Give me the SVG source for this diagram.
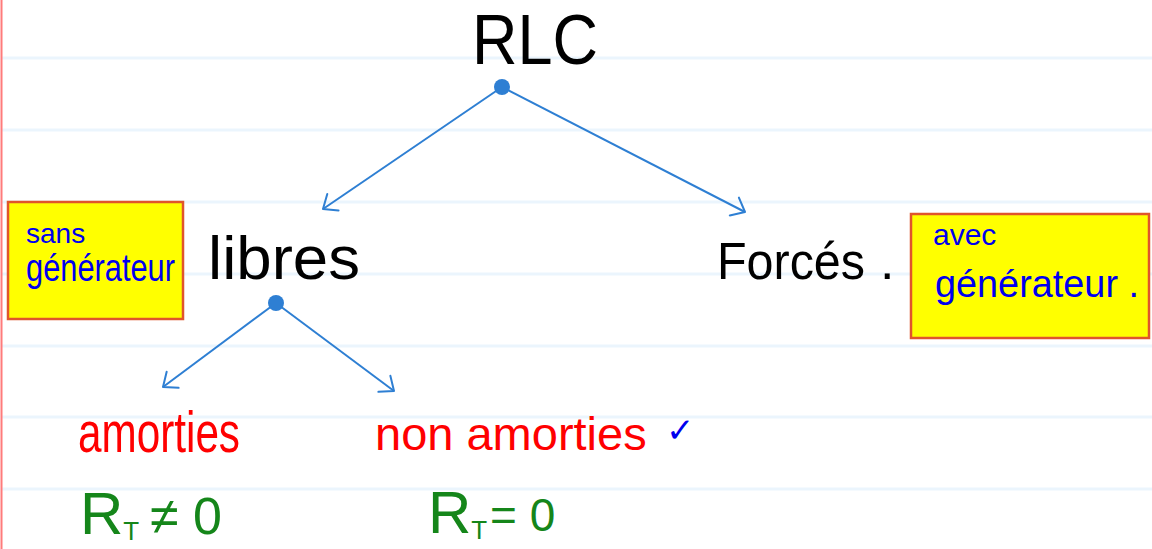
<svg xmlns="http://www.w3.org/2000/svg" width="1152" height="549" viewBox="0 0 1152 549">
<defs>
<style>
.rule{stroke:#ebf5fd;stroke-width:3}
.conn{stroke:#2e7fd3;stroke-width:2;fill:none}
.dot{fill:#2e7fd3}
.hw{font-family:"Liberation Sans","DejaVu Sans",sans-serif}
.blk{fill:#000}
.red{fill:#ff0000}
.blu{fill:#0000ee}
.grn{fill:#15861a}
.box{fill:#ffff00;stroke:#e0552b;stroke-width:2.5}
</style>
<marker id="arr" viewBox="0 0 16 24" refX="14" refY="12" markerWidth="16" markerHeight="24" markerUnits="userSpaceOnUse" orient="auto">
<path d="M2,2 L14,12 L2,22" fill="none" stroke="#2e7fd3" stroke-width="2" stroke-linecap="round" stroke-linejoin="round"/>
</marker>
</defs>
<rect width="1152" height="549" fill="#ffffff"/>
<g id="paper">
<line class="rule" x1="2" y1="58" x2="1152" y2="58"/>
<line class="rule" x1="2" y1="130" x2="1152" y2="130"/>
<line class="rule" x1="2" y1="202" x2="1152" y2="202"/>
<line class="rule" x1="2" y1="274" x2="1152" y2="274"/>
<line class="rule" x1="2" y1="346" x2="1152" y2="346"/>
<line class="rule" x1="2" y1="417" x2="1152" y2="417"/>
<line class="rule" x1="2" y1="489" x2="1152" y2="489"/>
<line x1="1.5" y1="0" x2="1.5" y2="549" stroke="#ff7b7b" stroke-width="2"/>
</g>
<g id="connectors">
<line class="conn" x1="502" y1="87" x2="323" y2="209" marker-end="url(#arr)"/>
<line class="conn" x1="502" y1="87" x2="745" y2="212" marker-end="url(#arr)"/>
<line class="conn" x1="276" y1="303" x2="163" y2="387" marker-end="url(#arr)"/>
<line class="conn" x1="276" y1="303" x2="394" y2="391" marker-end="url(#arr)"/>
<circle class="dot" cx="502" cy="87" r="8"/>
<circle class="dot" cx="276" cy="303" r="8"/>
</g>
<g id="rlc">
<text class="hw blk" x="472" y="64" font-size="70" textLength="126" lengthAdjust="spacingAndGlyphs">RLC</text>
</g>
<g id="libres">
<text class="hw blk" x="208" y="279" font-size="62" textLength="152" lengthAdjust="spacingAndGlyphs">libres</text>
</g>
<g id="forces">
<text class="hw blk" y="279" font-size="52"><tspan x="717" textLength="148" lengthAdjust="spacingAndGlyphs">Forcés</tspan><tspan x="880">.</tspan></text>
</g>
<g id="box-sans">
<rect class="box" x="8" y="202" width="175" height="117"/>
<text class="hw blu"><tspan x="26" y="243" font-size="28">sans</tspan><tspan x="26" y="281" font-size="38" textLength="149" lengthAdjust="spacingAndGlyphs">générateur</tspan></text>
</g>
<g id="box-avec">
<rect class="box" x="911" y="214" width="238" height="124"/>
<text class="hw blu"><tspan x="933" y="245" font-size="30">avec</tspan><tspan x="935" y="297" font-size="38" textLength="204" lengthAdjust="spacingAndGlyphs">générateur .</tspan></text>
</g>
<g id="amorties">
<text class="hw red" x="78" y="452" font-size="58" textLength="162" lengthAdjust="spacingAndGlyphs">amorties</text>
</g>
<g id="eq-amorties">
<text class="hw grn" x="80" y="534" font-size="60">R<tspan font-size="26" dy="6">T</tspan><tspan x="150" dy="-6" font-size="52">≠ 0</tspan></text>
</g>
<g id="non-amorties">
<text class="hw red" x="375" y="450" font-size="47">non amorties<tspan class="blu" x="666" y="442" font-size="34" font-family="DejaVu Sans, sans-serif">✓</tspan></text>
</g>
<g id="eq-non-amorties">
<text class="hw grn" x="428" y="533" font-size="60">R<tspan font-size="26" dy="6">T</tspan><tspan x="490" dy="-8" font-size="46">= 0</tspan></text>
</g>
</svg>
